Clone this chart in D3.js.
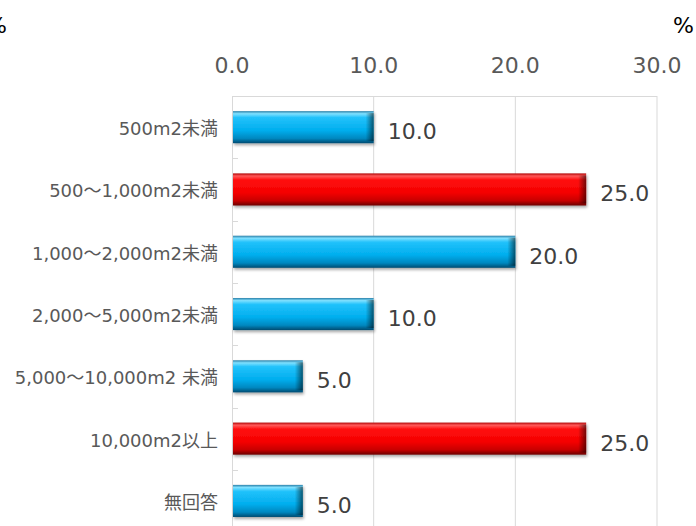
<!DOCTYPE html>
<html><head><meta charset="utf-8">
<script src="https://cdn.jsdelivr.net/npm/d3@7"></script>
<style>
html,body{margin:0;padding:0;background:#fff;overflow:hidden}
text{font-family:"DejaVu Sans","Noto Sans CJK JP",sans-serif}
</style></head><body>
<svg id="c" width="696" height="526"></svg>
<script>
const categories = ["500m2未満","500～1,000m2未満","1,000～2,000m2未満","2,000～5,000m2未満","5,000～10,000m2 未満","10,000m2以上","無回答"];
const values = [10.0, 25.0, 20.0, 10.0, 5.0, 25.0, 5.0];
const highlight = [false, true, false, false, false, true, false];
const xTicks = [0, 10, 20, 30];

const svg = d3.select("#c");
const plotLeft = 232, plotRight = 657, plotTop = 96, band = 62.3;
const x = d3.scaleLinear().domain([0, 30]).range([plotLeft, plotRight]);
const y = d3.scaleBand().domain(categories).range([plotTop, plotTop + band * categories.length]).paddingInner(0.485).paddingOuter(0.243);

const defs = svg.append("defs");
function grad(id, stops) {
  const g = defs.append("linearGradient").attr("id", id).attr("x1", 0).attr("y1", 0).attr("x2", 0).attr("y2", 1);
  stops.forEach(s => g.append("stop").attr("offset", s[0]).attr("stop-color", s[1]));
}
grad("gBlue", [[0, "#2a7fa8"], [0.08, "#7fe0ff"], [0.2, "#22c2fb"], [0.6, "#00aeee"], [0.85, "#0088c0"], [1, "#004a70"]]);
grad("gRed", [[0, "#b00000"], [0.08, "#ff5a5a"], [0.2, "#ff1010"], [0.6, "#f50000"], [0.85, "#c80000"], [1, "#6a0000"]]);
const hg = defs.append("linearGradient").attr("id", "gEnd").attr("x1", 0).attr("x2", 1);
hg.append("stop").attr("offset", 0).attr("stop-color", "#000").attr("stop-opacity", 0);
hg.append("stop").attr("offset", 1).attr("stop-color", "#000").attr("stop-opacity", 0.55);
const f = defs.append("filter").attr("id", "sh").attr("x", "-5%").attr("y", "-20%").attr("width", "115%").attr("height", "160%");
f.append("feGaussianBlur").attr("in", "SourceAlpha").attr("stdDeviation", 1.5);
f.append("feOffset").attr("dx", 1).attr("dy", 2).attr("result", "b");
f.append("feComponentTransfer").append("feFuncA").attr("type", "linear").attr("slope", 0.35);
const m = f.append("feMerge"); m.append("feMergeNode"); m.append("feMergeNode").attr("in", "SourceGraphic");

// plot frame and vertical gridlines
const plotBottom = plotTop + band * categories.length;
svg.append("g").selectAll("line").data(xTicks.slice(1)).join("line")
  .attr("x1", d => x(d)).attr("x2", d => x(d)).attr("y1", plotTop).attr("y2", plotBottom)
  .attr("stroke", "#d9d9d9").attr("stroke-width", 1);
svg.append("line").attr("x1", plotLeft).attr("x2", plotRight).attr("y1", plotTop + 0.5).attr("y2", plotTop + 0.5).attr("stroke", "#d9d9d9");
svg.append("line").attr("x1", plotLeft + 0.5).attr("x2", plotLeft + 0.5).attr("y1", plotTop).attr("y2", plotBottom).attr("stroke", "#d9d9d9");

// category boundary ticks
svg.append("g").selectAll("line").data(d3.range(1, categories.length)).join("line")
  .attr("x1", plotLeft).attr("x2", plotLeft + 6)
  .attr("y1", i => Math.round(plotTop + band * i) + 0.5).attr("y2", i => Math.round(plotTop + band * i) + 0.5)
  .attr("stroke", "#d9d9d9");

// top value axis labels
svg.append("g").selectAll("text").data(xTicks).join("text")
  .attr("x", d => x(d)).attr("y", 73).attr("text-anchor", "middle")
  .attr("font-size", 22).attr("fill", "#595959").text(d => d.toFixed(1));

// unit labels
svg.append("text").attr("x", 7).attr("y", 33).attr("text-anchor", "end").attr("font-size", 22).attr("fill", "#000").text("%");
svg.append("text").attr("x", 694).attr("y", 33).attr("text-anchor", "end").attr("font-size", 22).attr("fill", "#000").text("%");

// category labels
svg.append("g").selectAll("text").data(categories).join("text")
  .attr("x", 218).attr("y", d => y(d) + y.bandwidth() / 2 + 8).attr("text-anchor", "end")
  .attr("font-size", 18).attr("fill", "#595959").text(d => d);

// bars
const bars = svg.append("g").selectAll("g").data(categories).join("g");
bars.append("rect")
  .attr("x", plotLeft + 1).attr("y", d => y(d))
  .attr("width", (d, i) => x(values[i]) - plotLeft - 1).attr("height", y.bandwidth())
  .attr("fill", (d, i) => highlight[i] ? "url(#gRed)" : "url(#gBlue)")
  .attr("filter", "url(#sh)");
bars.append("rect")
  .attr("x", (d, i) => x(values[i]) - 8).attr("y", d => y(d) + 2)
  .attr("width", 8).attr("height", y.bandwidth() - 4)
  .attr("fill", "url(#gEnd)");

// value labels
svg.append("g").selectAll("text").data(categories).join("text")
  .attr("x", (d, i) => x(values[i]) + 14).attr("y", d => y(d) + y.bandwidth() / 2 + 12)
  .attr("font-size", 22).attr("fill", "#404040").text((d, i) => values[i].toFixed(1));
</script></body></html>
